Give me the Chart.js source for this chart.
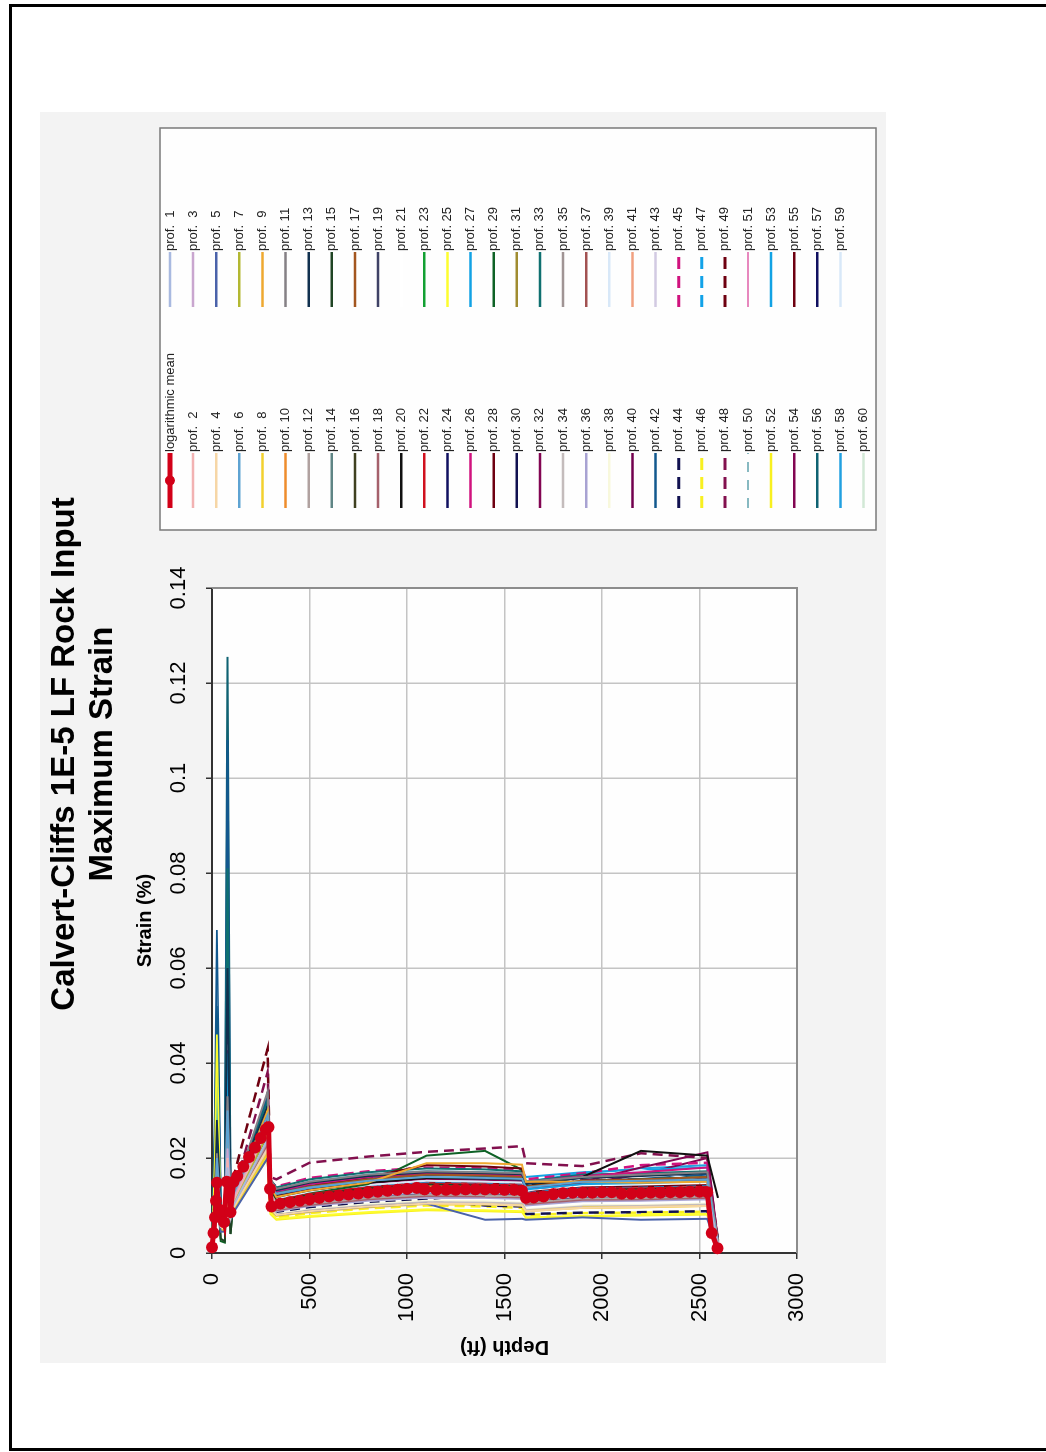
<!DOCTYPE html>
<html>
<head>
<meta charset="utf-8">
<title>Calvert-Cliffs 1E-5 LF Rock Input - Maximum Strain</title>
<script src="https://cdn.jsdelivr.net/npm/chart.js@4.4.1/dist/chart.umd.min.js"></script>
<style>
  html, body { margin: 0; padding: 0; background: #fff; overflow: hidden; }
  body { width: 1046px; height: 1452px; position: relative; }
  #frame { position: absolute; left: 9px; top: 4px; width: 1100px; height: 1447px; box-sizing: border-box;
           border-left: 3px solid #000; border-top: 3px solid #000; border-bottom: 3px solid #000; }
  /* the sheet is printed landscape, turned a quarter turn on the page */
  #sheet { position: absolute; left: 0; top: 0; width: 1452px; height: 1046px;
           transform-origin: 0 0; transform: translateY(1452px) rotate(-90deg); }
  #chart_canvas { position: absolute; left: 56px; top: 40px; }
</style>
</head>
<body>
<div id="frame"></div>
<div id="sheet"><canvas id="chart_canvas" width="1284" height="846"></canvas></div>
<script>
const depthMax = 3000;
const depthStep = 500;
const strainMax = 0.14;
const strainStep = 0.02;

// depths (ft) at which each profile is read
const profDepth = [0, 15, 25, 45, 65, 80, 95, 110, 285, 300, 330, 500, 800, 1100, 1400, 1590, 1610, 1900, 2200, 2540, 2595];

// max strain (%) of prof. 1 .. prof. 60 at profDepth
const profStrain = [
    [0.0012,0.0060,0.0120,0.0060,0.0055,0.0180,0.0080,0.0100,0.0240,0.0115,0.0095,0.0108,0.0120,0.0128,0.0127,0.0125,0.0112,0.0120,0.0121,0.0124,0.0015],
    [0.0010,0.0070,0.0150,0.0070,0.0060,0.0200,0.0085,0.0110,0.0260,0.0120,0.0100,0.0112,0.0125,0.0132,0.0131,0.0130,0.0114,0.0124,0.0125,0.0128,0.0012],
    [0.0014,0.0080,0.0160,0.0075,0.0070,0.0220,0.0090,0.0115,0.0270,0.0125,0.0104,0.0118,0.0130,0.0137,0.0136,0.0134,0.0118,0.0128,0.0128,0.0131,0.0018],
    [0.0011,0.0055,0.0110,0.0055,0.0050,0.0160,0.0075,0.0095,0.0220,0.0095,0.0080,0.0088,0.0098,0.0104,0.0103,0.0100,0.0088,0.0095,0.0097,0.0099,0.0010],
    [0.0009,0.0045,0.0095,0.0045,0.0045,0.0140,0.0070,0.0085,0.0200,0.0095,0.0080,0.0088,0.0098,0.0104,0.0070,0.0072,0.0070,0.0075,0.0070,0.0072,0.0008],
    [0.0013,0.0090,0.0200,0.0080,0.0075,0.0300,0.0095,0.0120,0.0290,0.0140,0.0125,0.0138,0.0152,0.0160,0.0158,0.0156,0.0138,0.0150,0.0152,0.0155,0.0020],
    [0.0012,0.0065,0.0130,0.0065,0.0060,0.0190,0.0085,0.0105,0.0250,0.0118,0.0098,0.0110,0.0122,0.0130,0.0129,0.0127,0.0113,0.0122,0.0123,0.0126,0.0014],
    [0.0010,0.0050,0.0100,0.0050,0.0048,0.0150,0.0072,0.0090,0.0210,0.0090,0.0078,0.0086,0.0096,0.0103,0.0102,0.0100,0.0088,0.0095,0.0096,0.0099,0.0009],
    [0.0013,0.0085,0.0180,0.0078,0.0072,0.0260,0.0092,0.0118,0.0300,0.0140,0.0118,0.0132,0.0148,0.0189,0.0189,0.0186,0.0150,0.0150,0.0148,0.0150,0.0022],
    [0.0012,0.0075,0.0150,0.0070,0.0065,0.0210,0.0088,0.0110,0.0265,0.0125,0.0105,0.0118,0.0132,0.0140,0.0139,0.0137,0.0120,0.0130,0.0131,0.0134,0.0016],
    [0.0014,0.0095,0.0210,0.0085,0.0080,0.0330,0.0100,0.0125,0.0340,0.0155,0.0135,0.0150,0.0165,0.0172,0.0170,0.0168,0.0150,0.0160,0.0165,0.0170,0.0025],
    [0.0011,0.0060,0.0125,0.0060,0.0055,0.0175,0.0080,0.0100,0.0235,0.0110,0.0092,0.0104,0.0116,0.0123,0.0122,0.0120,0.0106,0.0115,0.0116,0.0119,0.0012],
    [0.0015,0.0120,0.0280,0.0095,0.0085,0.0600,0.0110,0.0130,0.0310,0.0150,0.0132,0.0148,0.0162,0.0170,0.0168,0.0166,0.0145,0.0158,0.0162,0.0168,0.0024],
    [0.0012,0.0070,0.0140,0.0068,0.0062,0.0205,0.0086,0.0108,0.0255,0.0120,0.0101,0.0113,0.0126,0.0134,0.0133,0.0131,0.0116,0.0125,0.0126,0.0129,0.0015],
    [0.0013,0.0080,0.0170,0.0030,0.0025,0.0240,0.0040,0.0112,0.0275,0.0130,0.0110,0.0122,0.0136,0.0144,0.0142,0.0140,0.0123,0.0133,0.0134,0.0137,0.0018],
    [0.0012,0.0068,0.0135,0.0066,0.0060,0.0195,0.0084,0.0106,0.0248,0.0117,0.0099,0.0111,0.0123,0.0131,0.0130,0.0128,0.0114,0.0123,0.0124,0.0127,0.0014],
    [0.0013,0.0082,0.0175,0.0076,0.0070,0.0250,0.0090,0.0115,0.0285,0.0140,0.0125,0.0140,0.0155,0.0165,0.0163,0.0160,0.0140,0.0152,0.0155,0.0160,0.0019],
    [0.0011,0.0058,0.0118,0.0058,0.0053,0.0170,0.0078,0.0098,0.0230,0.0108,0.0090,0.0101,0.0113,0.0120,0.0119,0.0117,0.0103,0.0112,0.0113,0.0116,0.0011],
    [0.0012,0.0072,0.0145,0.0070,0.0064,0.0215,0.0087,0.0109,0.0258,0.0121,0.0102,0.0114,0.0127,0.0135,0.0134,0.0132,0.0117,0.0126,0.0127,0.0130,0.0015],
    [0.0014,0.0090,0.0190,0.0082,0.0076,0.0270,0.0095,0.0120,0.0300,0.0140,0.0118,0.0132,0.0148,0.0158,0.0157,0.0155,0.0140,0.0160,0.0215,0.0205,0.0116],
    [0.0012,0.0065,0.0130,0.0064,0.0058,0.0190,0.0083,0.0104,0.0245,0.0116,0.0098,0.0110,0.0122,0.0130,0.0129,0.0127,0.0113,0.0122,0.0123,0.0126,0.0014],
    [0.0013,0.0078,0.0160,0.0074,0.0068,0.0230,0.0089,0.0113,0.0280,0.0132,0.0111,0.0124,0.0138,0.0146,0.0144,0.0142,0.0125,0.0135,0.0136,0.0139,0.0017],
    [0.0012,0.0070,0.0145,0.0068,0.0062,0.0205,0.0086,0.0108,0.0255,0.0120,0.0102,0.0114,0.0127,0.0135,0.0134,0.0132,0.0116,0.0126,0.0127,0.0130,0.0015],
    [0.0011,0.0062,0.0128,0.0062,0.0056,0.0180,0.0081,0.0101,0.0238,0.0112,0.0094,0.0106,0.0118,0.0125,0.0124,0.0122,0.0107,0.0116,0.0117,0.0120,0.0012],
    [0.0010,0.0200,0.0460,0.0050,0.0046,0.0140,0.0070,0.0088,0.0205,0.0085,0.0072,0.0078,0.0086,0.0092,0.0090,0.0088,0.0075,0.0078,0.0080,0.0082,0.0008],
    [0.0013,0.0085,0.0175,0.0078,0.0072,0.0250,0.0091,0.0116,0.0290,0.0145,0.0130,0.0145,0.0160,0.0168,0.0166,0.0164,0.0148,0.0162,0.0170,0.0180,0.0020],
    [0.0014,0.0150,0.0350,0.0090,0.0082,0.0420,0.0105,0.0124,0.0310,0.0148,0.0124,0.0137,0.0151,0.0159,0.0157,0.0155,0.0134,0.0145,0.0147,0.0151,0.0023],
    [0.0013,0.0080,0.0170,0.0076,0.0070,0.0245,0.0090,0.0114,0.0290,0.0140,0.0120,0.0140,0.0160,0.0185,0.0182,0.0178,0.0140,0.0150,0.0152,0.0155,0.0020],
    [0.0012,0.0075,0.0155,0.0025,0.0022,0.0225,0.0040,0.0110,0.0270,0.0128,0.0108,0.0125,0.0145,0.0205,0.0215,0.0175,0.0140,0.0150,0.0155,0.0160,0.0018],
    [0.0012,0.0068,0.0140,0.0066,0.0060,0.0200,0.0085,0.0107,0.0252,0.0119,0.0100,0.0112,0.0125,0.0133,0.0132,0.0130,0.0115,0.0124,0.0125,0.0128,0.0014],
    [0.0011,0.0060,0.0122,0.0060,0.0055,0.0175,0.0080,0.0100,0.0235,0.0110,0.0092,0.0104,0.0116,0.0123,0.0122,0.0120,0.0106,0.0115,0.0116,0.0119,0.0012],
    [0.0014,0.0088,0.0185,0.0080,0.0074,0.0265,0.0094,0.0119,0.0305,0.0142,0.0120,0.0134,0.0149,0.0158,0.0156,0.0154,0.0135,0.0150,0.0180,0.0212,0.0022],
    [0.0015,0.0110,0.0260,0.0092,0.0084,0.0810,0.0108,0.0128,0.0320,0.0155,0.0138,0.0155,0.0170,0.0178,0.0176,0.0172,0.0150,0.0165,0.0168,0.0172,0.0026],
    [0.0010,0.0052,0.0105,0.0052,0.0048,0.0155,0.0074,0.0092,0.0215,0.0095,0.0080,0.0090,0.0100,0.0107,0.0106,0.0104,0.0090,0.0098,0.0099,0.0102,0.0009],
    [0.0012,0.0066,0.0135,0.0065,0.0059,0.0195,0.0084,0.0105,0.0248,0.0117,0.0099,0.0111,0.0123,0.0131,0.0130,0.0128,0.0114,0.0123,0.0124,0.0127,0.0014],
    [0.0011,0.0057,0.0115,0.0057,0.0052,0.0165,0.0077,0.0097,0.0225,0.0104,0.0088,0.0099,0.0110,0.0117,0.0116,0.0114,0.0100,0.0109,0.0110,0.0113,0.0011],
    [0.0013,0.0076,0.0158,0.0072,0.0066,0.0225,0.0088,0.0112,0.0275,0.0130,0.0110,0.0123,0.0137,0.0145,0.0143,0.0141,0.0124,0.0134,0.0135,0.0138,0.0017],
    [0.0010,0.0054,0.0108,0.0054,0.0050,0.0158,0.0075,0.0094,0.0218,0.0098,0.0082,0.0092,0.0103,0.0110,0.0109,0.0106,0.0092,0.0100,0.0101,0.0104,0.0010],
    [0.0013,0.0084,0.0172,0.0077,0.0071,0.0245,0.0090,0.0115,0.0285,0.0135,0.0115,0.0128,0.0143,0.0152,0.0150,0.0148,0.0130,0.0160,0.0175,0.0150,0.0018],
    [0.0012,0.0072,0.0148,0.0070,0.0064,0.0210,0.0087,0.0109,0.0260,0.0122,0.0103,0.0115,0.0128,0.0136,0.0135,0.0133,0.0117,0.0127,0.0128,0.0131,0.0015],
    [0.0011,0.0062,0.0126,0.0061,0.0056,0.0178,0.0081,0.0101,0.0237,0.0111,0.0093,0.0105,0.0117,0.0124,0.0123,0.0121,0.0107,0.0116,0.0117,0.0120,0.0012],
    [0.0016,0.0300,0.0680,0.0100,0.0090,0.1080,0.0112,0.0130,0.0330,0.0152,0.0128,0.0141,0.0156,0.0165,0.0163,0.0160,0.0140,0.0152,0.0156,0.0165,0.0028],
    [0.0012,0.0064,0.0132,0.0063,0.0057,0.0185,0.0082,0.0103,0.0242,0.0114,0.0096,0.0108,0.0120,0.0127,0.0126,0.0124,0.0110,0.0119,0.0120,0.0123,0.0013],
    [0.0011,0.0058,0.0120,0.0058,0.0053,0.0170,0.0078,0.0098,0.0230,0.0100,0.0085,0.0095,0.0105,0.0112,0.0100,0.0098,0.0082,0.0085,0.0086,0.0088,0.0010],
    [0.0014,0.0095,0.0200,0.0085,0.0078,0.0450,0.0098,0.0122,0.0310,0.0150,0.0140,0.0158,0.0172,0.0180,0.0178,0.0176,0.0155,0.0168,0.0185,0.0190,0.0023],
    [0.0010,0.0052,0.0105,0.0052,0.0048,0.0150,0.0072,0.0090,0.0208,0.0088,0.0075,0.0084,0.0094,0.0100,0.0098,0.0095,0.0080,0.0084,0.0085,0.0087,0.0009],
    [0.0013,0.0080,0.0165,0.0075,0.0069,0.0235,0.0089,0.0114,0.0280,0.0133,0.0112,0.0125,0.0139,0.0147,0.0145,0.0143,0.0126,0.0136,0.0137,0.0140,0.0018],
    [0.0015,0.0100,0.0220,0.0088,0.0080,0.0350,0.0102,0.0126,0.0380,0.0160,0.0155,0.0190,0.0203,0.0213,0.0220,0.0225,0.0189,0.0183,0.0210,0.0200,0.0025],
    [0.0015,0.0090,0.0190,0.0082,0.0076,0.0280,0.0096,0.0160,0.0430,0.0150,0.0128,0.0142,0.0158,0.0167,0.0165,0.0163,0.0142,0.0153,0.0155,0.0158,0.0026],
    [0.0012,0.0070,0.0142,0.0067,0.0061,0.0205,0.0086,0.0107,0.0252,0.0119,0.0100,0.0112,0.0125,0.0133,0.0132,0.0130,0.0115,0.0124,0.0125,0.0128,0.0014],
    [0.0013,0.0074,0.0152,0.0071,0.0065,0.0220,0.0088,0.0111,0.0268,0.0127,0.0107,0.0120,0.0134,0.0142,0.0140,0.0138,0.0122,0.0132,0.0133,0.0136,0.0016],
    [0.0010,0.0048,0.0098,0.0048,0.0045,0.0145,0.0070,0.0088,0.0200,0.0082,0.0070,0.0076,0.0084,0.0090,0.0088,0.0086,0.0074,0.0077,0.0079,0.0081,0.0008],
    [0.0014,0.0130,0.0300,0.0088,0.0080,0.0380,0.0104,0.0124,0.0315,0.0152,0.0134,0.0150,0.0165,0.0172,0.0170,0.0168,0.0160,0.0170,0.0175,0.0180,0.0022],
    [0.0013,0.0082,0.0170,0.0076,0.0070,0.0245,0.0091,0.0116,0.0290,0.0138,0.0118,0.0132,0.0147,0.0156,0.0154,0.0152,0.0134,0.0146,0.0165,0.0200,0.0020],
    [0.0012,0.0078,0.0160,0.0074,0.0068,0.0230,0.0089,0.0113,0.0280,0.0132,0.0112,0.0126,0.0140,0.0150,0.0148,0.0146,0.0128,0.0138,0.0140,0.0143,0.0018],
    [0.0016,0.0250,0.0520,0.0098,0.0088,0.1255,0.0110,0.0128,0.0325,0.0150,0.0126,0.0140,0.0155,0.0164,0.0162,0.0160,0.0140,0.0150,0.0152,0.0156,0.0027],
    [0.0012,0.0068,0.0140,0.0066,0.0060,0.0200,0.0085,0.0107,0.0252,0.0118,0.0099,0.0111,0.0124,0.0132,0.0131,0.0129,0.0114,0.0123,0.0124,0.0127,0.0014],
    [0.0014,0.0110,0.0250,0.0086,0.0078,0.0320,0.0100,0.0122,0.0305,0.0148,0.0130,0.0145,0.0158,0.0166,0.0164,0.0162,0.0150,0.0168,0.0178,0.0185,0.0021],
    [0.0011,0.0060,0.0124,0.0060,0.0055,0.0176,0.0080,0.0100,0.0236,0.0110,0.0092,0.0104,0.0116,0.0123,0.0122,0.0120,0.0106,0.0115,0.0116,0.0119,0.0012],
    [0.0012,0.0064,0.0130,0.0063,0.0057,0.0185,0.0082,0.0103,0.0242,0.0114,0.0096,0.0108,0.0120,0.0127,0.0126,0.0124,0.0110,0.0119,0.0120,0.0123,0.0013]
];

// logarithmic mean (red markers)
const meanDepth = [0, 8, 15, 20, 25, 35, 50, 62, 75, 85, 95, 110, 130, 160, 190, 220, 250, 275, 290, 298, 305,
    350, 400, 450, 500, 550, 600, 650, 700, 750, 800, 850, 900, 950, 1000, 1050, 1090, 1150, 1200, 1250,
    1300, 1350, 1400, 1450, 1500, 1550, 1590, 1610, 1650, 1700, 1750, 1800, 1850, 1900, 1950, 2000, 2050,
    2100, 2150, 2200, 2250, 2300, 2350, 2400, 2450, 2500, 2540, 2563, 2592];
const meanStrain = [0.0012, 0.0042, 0.0075, 0.0110, 0.0148, 0.0092, 0.0085, 0.0065, 0.0150, 0.0148, 0.0086, 0.0150, 0.0162,
    0.0182, 0.0202, 0.0222, 0.0242, 0.0260, 0.0265, 0.0135, 0.0098,
    0.0104, 0.0107, 0.0110, 0.0113, 0.0116, 0.0119, 0.0121, 0.0123, 0.0125, 0.0127, 0.0129, 0.0131, 0.0133, 0.0135, 0.0137, 0.0134, 0.0133, 0.0133, 0.0133,
    0.0134, 0.0134, 0.0134, 0.0134, 0.0133, 0.0133, 0.0131, 0.0116, 0.0117, 0.0119, 0.0124, 0.0126, 0.0127, 0.0127, 0.0127, 0.0128, 0.0128,
    0.0125, 0.0125, 0.0126, 0.0127, 0.0127, 0.0128, 0.0128, 0.0129, 0.0129, 0.0128, 0.0042, 0.0010];

const meanColor = '#d20018';
const profColors = [
    '#a8b9e0', '#f2b2b2', '#c9a6cf', '#f6d6a6', '#4a62aa', '#5ea3d2', '#b3b832', '#f2d02e', '#eea830', '#ee8c2c',
    '#858085', '#b0a19f', '#10304e', '#5f8585', '#1f4424', '#3f4020', '#a3561f', '#a5606b', '#3f4266', '#111111',
    '#ffffff', '#d0101e', '#12a032', '#101060', '#fdfd2e', '#d0127e', '#12a2e4', '#6e0010', '#0e6226', '#111150',
    '#a08c30', '#820552', '#0f7070', '#c4bcbc', '#a09494', '#a8a2d2', '#a25252', '#f8f8dc', '#d8e8f8', '#72004e',
    '#f0a080', '#12588e', '#d2cae2', '#111150', '#d0127e', '#f8f020', '#12a2e8', '#82104e', '#6e0010', '#107484',
    '#d0127e', '#f8f020', '#12a2e4', '#820552', '#6e0010', '#0f6272', '#101060', '#22a0e0', '#d8e8f8', '#d2e8d6'
];
const dashedProfs = [44, 45, 46, 47, 48, 49, 50];
const thinProfs = [50, 51];

Chart.defaults.font.family = '"Liberation Sans", Arial, sans-serif';
Chart.defaults.color = '#000';

var datasets = [{
    label: 'logarithmic mean',
    data: meanDepth.map((d, i) => ({x: meanStrain[i], y: d})),
    borderColor: meanColor,
    backgroundColor: meanColor,
    borderWidth: 5,
    pointRadius: 6,
    pointBorderWidth: 0,
    showLine: true,
    clip: false
}];
profStrain.forEach(function(row, i) {
    var n = i + 1;
    datasets.push({
        label: 'prof. ' + String(n).padStart(2, ' '),
        data: row.map((s, j) => ({x: s, y: profDepth[j]})),
        borderColor: profColors[i],
        backgroundColor: profColors[i],
        borderWidth: thinProfs.includes(n) ? 1.2 : (dashedProfs.includes(n) ? 2.5 : 2),
        borderDash: dashedProfs.includes(n) ? [10, 6] : [],
        pointRadius: 0,
        showLine: true,
        clip: false
    });
});

// grey sheet behind the chart, white plot area, grey frame on the far sides
const sheetPanel = {
    id: 'sheetPanel',
    beforeDraw(chart) {
        const ctx = chart.ctx, ca = chart.chartArea;
        ctx.save();
        ctx.fillStyle = '#f3f3f3';
        ctx.fillRect(33, 0, chart.width - 33, chart.height);
        ctx.fillStyle = '#fefefe';
        ctx.fillRect(ca.left, ca.top, ca.right - ca.left, ca.bottom - ca.top);
        ctx.restore();
    },
    beforeDatasetsDraw(chart) {
        const ctx = chart.ctx, ca = chart.chartArea;
        ctx.save();
        ctx.strokeStyle = '#8c8c8c';
        ctx.lineWidth = 2;
        ctx.beginPath();
        ctx.moveTo(ca.right, ca.top);
        ctx.lineTo(ca.right, ca.bottom);
        ctx.lineTo(ca.left, ca.bottom);
        ctx.stroke();
        ctx.restore();
    }
};

// boxed legend, two entries per row
const boxLegend = {
    id: 'boxLegend',
    afterDraw(chart) {
        const ctx = chart.ctx, ca = chart.chartArea;
        const left = ca.right + 58, top = 120, w = 402, h = 716;
        ctx.save();
        ctx.fillStyle = '#fefefe';
        ctx.fillRect(left, top, w, h);
        ctx.strokeStyle = '#7a7a7a';
        ctx.lineWidth = 1.5;
        ctx.strokeRect(left, top, w, h);
        ctx.font = '13px "Liberation Sans", Arial, sans-serif';
        ctx.textBaseline = 'middle';
        chart.data.datasets.forEach(function(ds, k) {
            const x = left + 22 + (k % 2) * 201;
            const y = top + 10 + Math.floor(k / 2) * 23.12;
            const n = k;
            ctx.strokeStyle = ds.borderColor;
            ctx.lineWidth = k === 0 ? 5 : (thinProfs.includes(n) ? 1.2 : (dashedProfs.includes(n) ? 3 : 2.5));
            ctx.setLineDash(n === 50 ? [10, 8] : (dashedProfs.includes(n) ? [12, 7] : []));
            ctx.beginPath();
            ctx.moveTo(x, y);
            ctx.lineTo(x + 55, y);
            ctx.stroke();
            ctx.setLineDash([]);
            if (k === 0) {
                ctx.fillStyle = meanColor;
                ctx.beginPath();
                ctx.arc(x + 27.5, y, 5, 0, Math.PI * 2);
                ctx.fill();
            }
            ctx.fillStyle = '#222';
            ctx.fillText(ds.label, x + 56, y);
        });
        ctx.restore();
    }
};

var lineChart = new Chart(document.getElementById('chart_canvas'), {
    type: 'scatter',
    data: { datasets: datasets },
    plugins: [sheetPanel, boxLegend],
    options: {
        responsive: false,
        animation: false,
        devicePixelRatio: 1,
        layout: { padding: { left: 0, right: 0, top: 0, bottom: 89 } },
        plugins: {
            legend: { display: false },
            tooltip: { enabled: false },
            title: {
                display: true,
                text: ['Calvert-Cliffs 1E-5 LF Rock Input', 'Maximum Strain'],
                color: '#000',
                font: { size: 33, weight: 'bold', lineHeight: 1.15 },
                padding: { top: 6, bottom: 10.1 }
            }
        },
        scales: {
            x: {
                type: 'linear',
                position: 'top',
                min: 0,
                max: strainMax,
                ticks: { stepSize: strainStep, color: '#000', font: { size: 22 }, padding: 14, maxRotation: 0,
                         callback: v => String(Math.round(v * 100) / 100) },
                grid: { color: '#c4c4c4', lineWidth: 1.5, tickLength: 6, tickColor: '#333', tickWidth: 1.5 },
                border: { color: '#333', width: 2 },
                title: { display: true, text: 'Strain (%)', color: '#000', font: { size: 20, weight: 'bold' }, padding: { top: 1, bottom: 0 } },
                afterFit: function(scale) { scale.height = 80; }
            },
            y: {
                type: 'linear',
                position: 'left',
                reverse: true,
                min: 0,
                max: depthMax,
                ticks: { stepSize: depthStep, color: '#000', font: { size: 22 }, padding: 14, callback: v => String(v) },
                grid: { color: '#c4c4c4', lineWidth: 1.5, tickLength: 6, tickColor: '#333', tickWidth: 1.5 },
                border: { color: '#333', width: 2 },
                title: { display: true, text: 'Depth (ft)', color: '#000', font: { size: 20, weight: 'bold' }, padding: { top: 37, bottom: 0 } },
                afterFit: function(scale) { scale.width = 143; }
            },
            y2: {
                type: 'linear',
                position: 'right',
                display: true,
                ticks: { display: false },
                grid: { display: false },
                border: { display: false },
                afterFit: function(scale) { scale.width = 476; }
            }
        }
    }
});
</script>
</body>
</html>
